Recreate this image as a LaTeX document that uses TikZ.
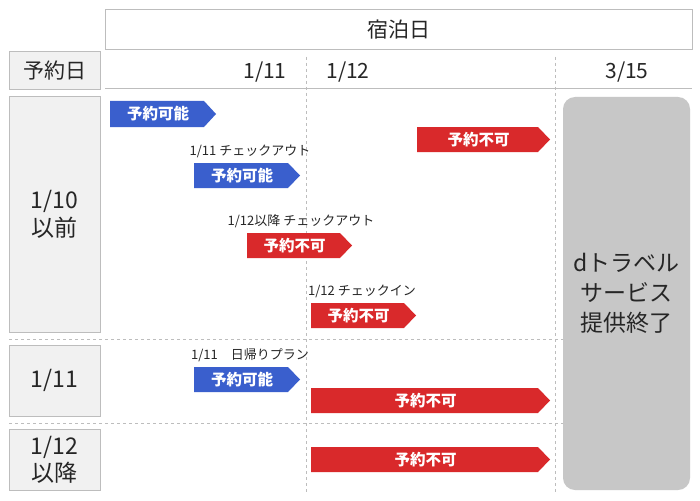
\documentclass[tikz,border=0pt]{standalone}
\usepackage{fontspec}
\setmainfont{Noto Sans CJK JP}
\definecolor{bl}{HTML}{3A5FCD}
\definecolor{rd}{HTML}{D9292B}
\definecolor{lg}{HTML}{F1F1F1}
\definecolor{bd}{HTML}{BDBDBD}
\begin{document}
\begin{tikzpicture}[x=1pt,y=-1pt,
 hdr/.style={draw=bd,line width=1pt,fill=lg,text=black!85},
 sep/.style={draw=bd,dashed,line width=1pt},
 tagtxt/.style={text=white,font=\bfseries\fontsize{15.5}{17}\selectfont},
 lbl/.style={font=\fontsize{13}{15}\selectfont,text=black!85}]
\useasboundingbox (0,0) rectangle (700,500);
\fill[white] (0,0) rectangle (700,500);
\node[draw=bd,line width=1pt,minimum width=587pt,minimum height=40pt,font=\fontsize{21}{24}\selectfont,text=black!85] (stay) at (398.5,30) {宿泊日};
\node[hdr,minimum width=91pt,minimum height=38pt,font=\fontsize{21}{24}\selectfont] (rd) at (54.5,71) {予約日};
\draw[bd,line width=1pt] (105,89) -- (692,89);
\node[font=\fontsize{21}{24}\selectfont,text=black!85] (d11) at (265,72) {1/11};
\node[font=\fontsize{21}{24}\selectfont,text=black!85] (d12) at (348,72) {1/12};
\node[font=\fontsize{21}{24}\selectfont,text=black!85] (d315) at (627,72) {3/15};
\draw[sep] (306,57) -- (306,492);
\draw[sep] (555,57) -- (555,492);
\draw[sep] (9,339) -- (692,339);
\draw[sep] (9,423) -- (692,423);
\node[hdr,minimum width=91pt,minimum height=235pt,align=center,font=\fontsize{23}{28}\selectfont] (r1) at (54.5,214.5) {1/10\\以前};
\node[hdr,minimum width=91pt,minimum height=71pt,font=\fontsize{23}{28}\selectfont] (r2) at (54.5,380.5) {1/11};
\node[hdr,minimum width=91pt,minimum height=61pt,align=center,inner sep=0pt,font=\fontsize{23}{27}\selectfont] (r3) at (54.5,459.5) {1/12\\以降};
\node[fill=black!22,rounded corners=12pt,minimum width=127pt,minimum height=393pt,align=center,font=\fontsize{23}{30}\selectfont,text=black!85] (end) at (626.5,293.5) {dトラベル\\サービス\\提供終了};
\newcommand\tagbox[6]{%
 \fill[#6] (#2,#4) -- (#3-12,#4) -- (#3,#4/2+#5/2) -- (#3-12,#5) -- (#2,#5) -- cycle;}
\newcommand\tg[7]{\tagbox{#1}{#2}{#3}{#4}{#5}{#6}\node[tagtxt] (#1) at (#2/2+#3/2-5,#4/2+#5/2) {#7};}
\tg{a1}{110}{216}{101}{127}{bl}{予約可能}
\tg{a2}{417}{550}{127}{152}{rd}{予約不可}
\node[lbl] (l3) at (250,151) {1/11 チェックアウト};
\tg{a3}{194}{300}{163}{188}{bl}{予約可能}
\node[lbl] (l4) at (301,221) {1/12以降 チェックアウト};
\tg{a4}{247}{352}{233}{258}{rd}{予約不可}
\node[lbl] (l5) at (362,291) {1/12 チェックイン};
\tg{a5}{311}{416}{303}{328}{rd}{予約不可}
\node[lbl] (l6) at (250,355) {1/11　日帰りプラン};
\tg{a6}{194}{300}{367}{392}{bl}{予約可能}
\tg{a7}{311}{550}{388}{413}{rd}{予約不可}
\tg{a8}{311}{550}{447}{472}{rd}{予約不可}
\end{tikzpicture}
\end{document}
